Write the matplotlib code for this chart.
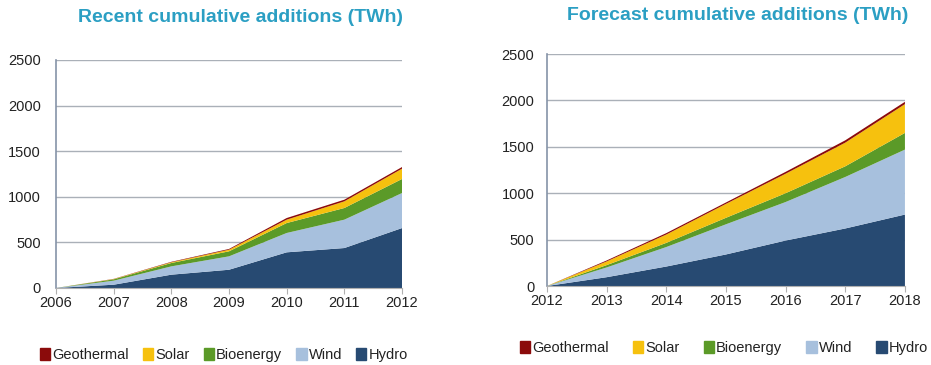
import numpy as np
import matplotlib.pyplot as plt
from matplotlib.patches import Patch

plt.rcParams['font.family'] = ['Liberation Sans', 'DejaVu Sans']
plt.rcParams['font.size'] = 10

# recent additions, 2006-2012 (TWh, cumulative)
years_recent = [2006, 2007, 2008, 2009, 2010, 2011, 2012]
hydro_recent = [0, 36, 146, 200, 391, 438, 657]
wind_recent = [0, 44, 91, 147, 212, 311, 384]
bio_recent = [0, 15, 37, 55, 109, 128, 154]
solar_recent = [0, 3, 8, 18, 37, 73, 113]
geo_recent = [0, 2, 5, 8, 18, 18, 18]

# forecast additions, 2012-2018 (TWh, cumulative)
years_fc = [2012, 2013, 2014, 2015, 2016, 2017, 2018]
hydro_fc = [0, 95, 210, 340, 490, 620, 770]
wind_fc = [0, 105, 210, 325, 415, 555, 700]
bio_fc = [0, 25, 45, 70, 95, 115, 180]
solar_fc = [0, 40, 90, 150, 210, 255, 310]
geo_fc = [0, 10, 15, 15, 20, 25, 25]

labels = ['Hydro', 'Wind', 'Bioenergy', 'Solar', 'Geothermal']
colors = ['#274a72', '#a7c0dd', '#5b9a28', '#f6c10e', '#8b0b0b']
title_col = '#2b9fc3'

W, H = 931, 365
fig = plt.figure(figsize=(W / 100, H / 100), dpi=100)
ax1 = fig.add_axes([0.0602, 0.211, 0.3716, 0.6247])
ax2 = fig.add_axes([0.5875, 0.2164, 0.3845, 0.6356])


def draw(ax, years, series, ypad):
    ax.stackplot(years, *series, colors=colors, linewidth=0)
    ax.set_xlim(years[0], years[-1])
    ax.set_ylim(0, 2500)
    ax.set_xticks(years)
    ax.set_yticks(np.arange(0, 2501, 500))
    ax.yaxis.grid(True, color='#aab0b8', linewidth=1)
    ax.set_axisbelow(True)
    for s in ['top', 'right']:
        ax.spines[s].set_visible(False)
    ax.spines['left'].set_color('#8593a8')
    ax.spines['left'].set_linewidth(1.2)
    ax.spines['bottom'].set_color('#b0b0b0')
    ax.tick_params(axis='y', length=0, pad=ypad, labelsize=10.5, colors='#222222')
    ax.tick_params(axis='x', length=4, color='#b0b0b0', pad=2, labelsize=10.5,
                   colors='#222222')


draw(ax1, years_recent,
     [hydro_recent, wind_recent, bio_recent, solar_recent, geo_recent], 11)
draw(ax2, years_fc, [hydro_fc, wind_fc, bio_fc, solar_fc, geo_fc], 9)

fig.text(240 / W, 1 - 18 / H, 'Recent cumulative additions (TWh)',
         color=title_col, fontsize=14, fontweight='bold', ha='center', va='center')
fig.text(738 / W, 1 - 16 / H, 'Forecast cumulative additions (TWh)',
         color=title_col, fontsize=14, fontweight='bold', ha='center', va='center')

handles = [Patch(color=c, label=l) for c, l in zip(colors, labels)][::-1]
for x, y, sp in [(224 / W, 1 - 355 / H, 0.96), (724 / W, 1 - 348 / H, 1.65)]:
    fig.legend(handles=handles, loc='center', bbox_to_anchor=(x, y), ncol=5,
               frameon=False, fontsize=10.5, handlelength=0.7,
               handleheight=0.9, handletextpad=0.15, columnspacing=sp,
               labelcolor='#222222')

fig.savefig('out.png', dpi=100)
